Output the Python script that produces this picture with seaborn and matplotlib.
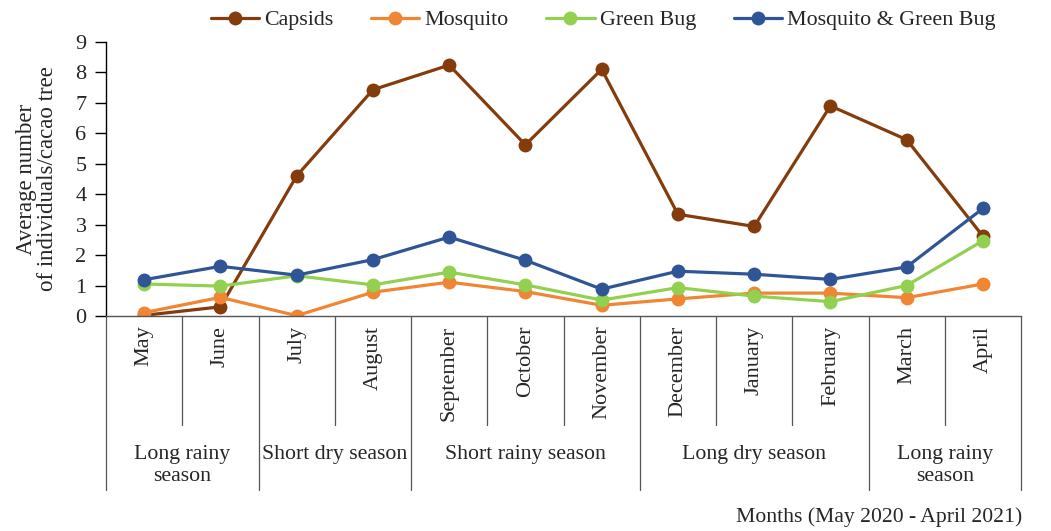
import pandas as pd
import matplotlib.pyplot as plt
import seaborn as sns

# values
months = ["May", "June", "July", "August", "September", "October", "November",
          "December", "January", "February", "March", "April"]
capsids = [0.02, 0.3, 4.6, 7.43, 8.24, 5.62, 8.1, 3.34, 2.94, 6.9, 5.79, 2.62]
mosquito = [0.11, 0.61, 0.01, 0.78, 1.11, 0.8, 0.35, 0.56, 0.75, 0.75, 0.6, 1.05]
green_bug = [1.05, 0.98, 1.32, 1.02, 1.44, 1.02, 0.52, 0.93, 0.65, 0.47, 1.0, 2.47]
mosq_green = [1.19, 1.63, 1.34, 1.85, 2.59, 1.83, 0.88, 1.47, 1.37, 1.2, 1.61, 3.53]

series_names = ["Capsids", "Mosquito", "Green Bug", "Mosquito & Green Bug"]
colors = ["#843C0C", "#F08534", "#92D050", "#2F5597"]

seasons = ["Long rainy\nseason", "Short dry season", "Short rainy season",
           "Long dry season", "Long rainy\nseason"]
season_months = [2, 2, 3, 3, 2]

# long table for seaborn
rows = []
for name, vals in zip(series_names, [capsids, mosquito, green_bug, mosq_green]):
    for i, v in enumerate(vals):
        rows.append({"pos": i, "pest": name, "value": v})
df = pd.DataFrame(rows)

sns.set_theme(style="white")
plt.rcParams["font.family"] = ["Liberation Serif", "DejaVu Serif"]

fig = plt.figure(figsize=(10.51, 5.31), dpi=100)
ax = fig.add_axes([0.1009, 0.405, 0.8706, 0.516])

sns.lineplot(data=df, x="pos", y="value", hue="pest", hue_order=series_names,
             palette=colors, marker="o", markersize=10, markeredgewidth=0,
             linewidth=2.3, ax=ax, legend=False)

ax.set_xlim(-0.5, len(months) - 0.5)
ax.set_ylim(0, 9)
ax.set_yticks(range(10))
ax.tick_params(axis="y", labelsize=16, length=8, width=1, color="black",
               direction="out", left=True, pad=6)
ax.set_xticks(range(len(months)))
ax.set_xticklabels(months, rotation=90, fontsize=16)
ax.tick_params(axis="x", length=0, pad=7)
for lbl in ax.get_xticklabels():
    lbl.set_ha("center")
    lbl.set_va("top")

sns.despine(ax=ax)
for s in ["left", "bottom"]:
    ax.spines[s].set_color("black")
    ax.spines[s].set_linewidth(1)
ax.spines["bottom"].set_color("#555555")

ax.set_xlabel("")
ax.set_ylabel("Average number\nof individuals/cacao tree", fontsize=16.5, linespacing=1.05)
ax.yaxis.set_label_coords(-0.052, 0.5)

# category separators and season separators below the axis
tr = ax.get_xaxis_transform()
axh = 274.0
month_low = -109 / axh
season_low = -174 / axh
bounds = [0]
for n in season_months:
    bounds.append(bounds[-1] + n)
for b in range(len(months) + 1):
    low = season_low if b in bounds else month_low
    ax.plot([b - 0.5, b - 0.5], [0, low], color="#555555", lw=0.9,
            transform=tr, clip_on=False)

for i, (txt, n) in enumerate(zip(seasons, season_months)):
    center = bounds[i] + n / 2 - 0.5
    ax.text(center, -129 / axh, txt, transform=tr, ha="center", va="top",
            fontsize=15.7, linespacing=1.25)

fig.text(1022 / 1051, 1 - 517 / 531, "Months (May 2020 - April 2021)",
         ha="right", va="center", fontsize=15.6)

handles = [plt.Line2D([], [], color=c, marker="o", markersize=10,
                      markeredgewidth=0, linewidth=2.3) for c in colors]
fig.legend(handles, series_names, loc="center", ncol=4, frameon=False,
           bbox_to_anchor=(0.574, 0.962), fontsize=15.8, handlelength=2.2,
           columnspacing=1.7, handletextpad=0.25)

fig.savefig("out.png", dpi=100)
